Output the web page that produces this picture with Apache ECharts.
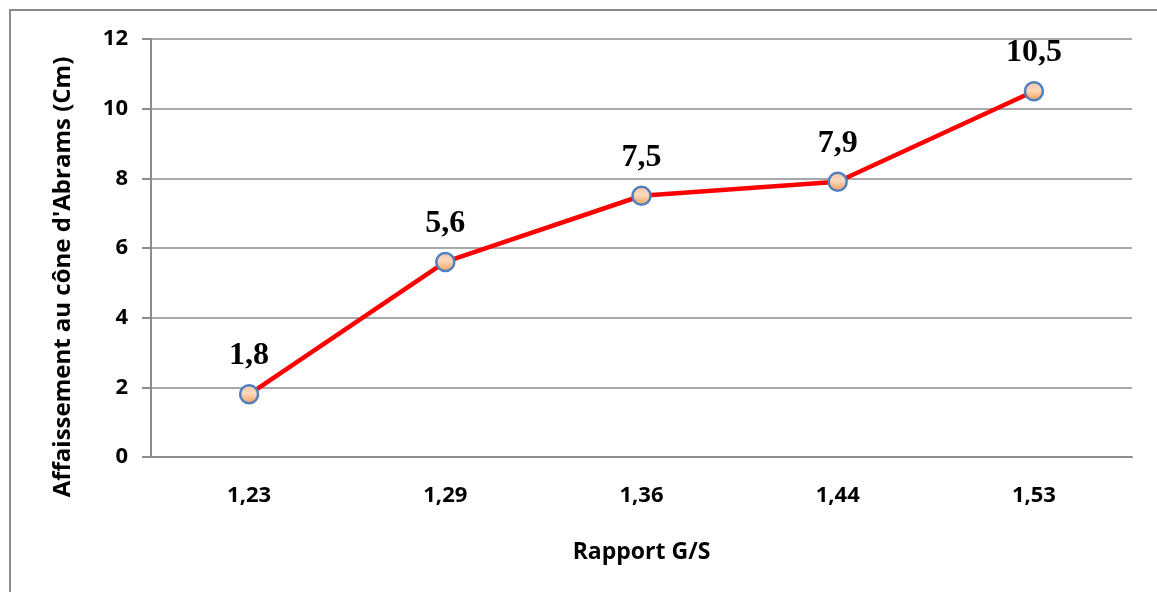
<!DOCTYPE html>
<html>
<head>
<meta charset="utf-8">
<title>Affaissement au cône d'Abrams</title>
<script src="https://cdn.jsdelivr.net/npm/echarts@6/dist/echarts.min.js"></script>
<style>
  html, body { margin: 0; padding: 0; background: #ffffff; }
  #chart { width: 1157px; height: 592px; }
</style>
</head>
<body>
<div id="chart"></div>
<script>
// Rapport G/S (x) and slump measured with the Abrams cone (y, cm)
const categories = ['1,23', '1,29', '1,36', '1,44', '1,53'];
const slumpValues = [1.8, 5.6, 7.5, 7.9, 10.5];
const yTicks = { min: 0, max: 12, interval: 2 };
const xAxisName = 'Rapport G/S';
const yAxisName = "Affaissement au cône d'Abrams (Cm)";

const sansFont = '"Open Sans", "Liberation Sans", sans-serif';
const serifFont = '"Liberation Serif", "DejaVu Serif", serif';
const gridGray = '#8c8c8c';

const chart = echarts.init(document.getElementById('chart'), null, { renderer: 'canvas' });

const decimalComma = v => String(v).replace('.', ',');

chart.setOption({
  animation: false,
  backgroundColor: '#ffffff',
  graphic: [{
    type: 'rect',
    shape: { x: 10, y: 10, width: 1200, height: 640 },
    style: { fill: 'none', stroke: gridGray, lineWidth: 2 },
    silent: true
  }],
  grid: { left: 151, right: 25, top: 39, bottom: 135, containLabel: false },
  xAxis: {
    type: 'category',
    data: categories,
    boundaryGap: true,
    axisLine: { show: true, lineStyle: { color: gridGray, width: 2 } },
    axisTick: { show: false },
    axisLabel: {
      margin: 28,
      fontFamily: sansFont, fontWeight: 'bold', fontSize: 22, color: '#000'
    },
    name: xAxisName,
    nameLocation: 'middle',
    nameGap: 84,
    nameTextStyle: { fontFamily: sansFont, fontWeight: 'bold', fontSize: 23, color: '#000' }
  },
  yAxis: {
    type: 'value',
    min: yTicks.min, max: yTicks.max, interval: yTicks.interval,
    axisLine: { show: true, lineStyle: { color: gridGray, width: 2 } },
    axisTick: { show: true, length: 9, lineStyle: { color: gridGray, width: 2 } },
    splitLine: { show: true, lineStyle: { color: gridGray, width: 1.5 } },
    axisLabel: {
      margin: 23,
      fontFamily: sansFont, fontWeight: 'bold', fontSize: 22, color: '#000'
    },
    name: yAxisName,
    nameLocation: 'middle',
    nameGap: 76,
    nameRotate: 90,
    nameTextStyle: {
      fontFamily: sansFont, fontWeight: 'bold', fontSize: 24, color: '#000',
      padding: [0, 58, 0, 0]
    }
  },
  series: [{
    type: 'line',
    data: slumpValues,
    lineStyle: { color: '#ff0000', width: 4.5 },
    symbol: 'circle',
    symbolSize: 18,
    itemStyle: {
      color: new echarts.graphic.LinearGradient(0, 0, 0, 1, [
        { offset: 0, color: '#f8c4a6' },
        { offset: 0.45, color: '#fcd8bd' },
        { offset: 1, color: '#f59a52' }
      ]),
      borderColor: '#4f81bd',
      borderWidth: 2.5
    },
    label: {
      show: true,
      position: 'top',
      distance: 12,
      formatter: p => decimalComma(p.value),
      fontFamily: serifFont, fontWeight: 'bold', fontSize: 32, color: '#000'
    },
    z: 3
  }]
});
</script>
</body>
</html>
